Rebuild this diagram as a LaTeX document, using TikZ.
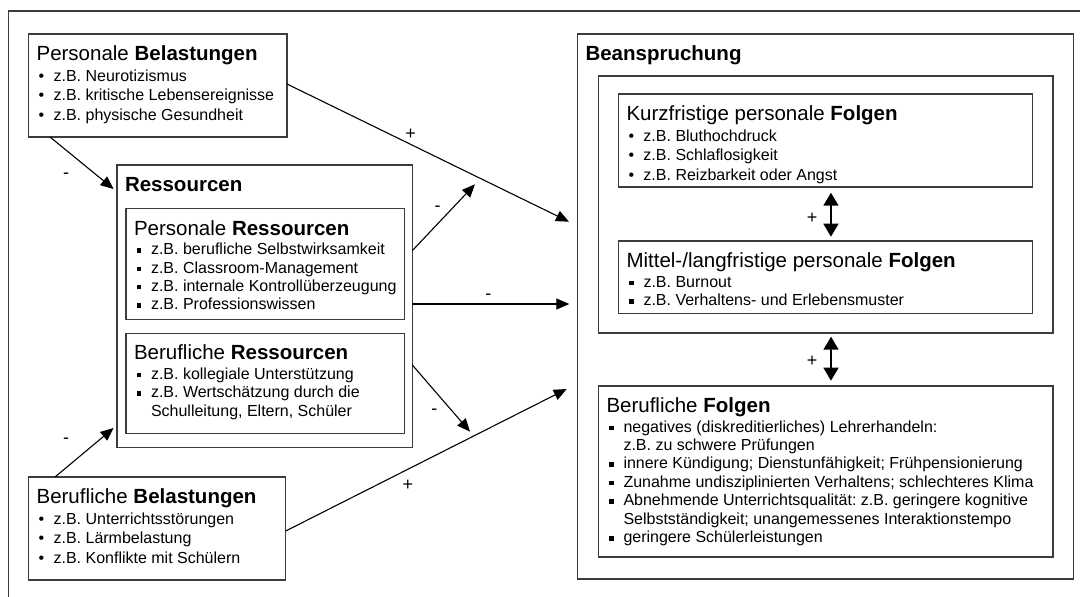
\documentclass[tikz,border=0pt]{standalone}
\usepackage{fontspec}
\setmainfont{Liberation Sans}
\usetikzlibrary{arrows.meta}
\definecolor{frame}{HTML}{3C3C3C}
\frenchspacing

\newcommand\boxtext[3]{\parbox[t][#2][t]{#1}{\leftskip=8pt\rightskip=0pt plus 1fil\parindent=0pt #3}}
\newcommand\ttl[1]{{\fontsize{20.5}{24}\selectfont\rule{0pt}{26.5pt}#1\par}\vspace{1.2pt}}
\newcommand\rd[1]{{\fontsize{16}{19.6}\selectfont\hangindent=17pt\hangafter=1\makebox[17pt][l]{\hspace{2pt}\textbullet}#1\par}}
\newcommand\sq[1]{{\fontsize{16}{18.4}\selectfont\hangindent=17pt\hangafter=1\makebox[17pt][l]{\hspace{2.5pt}\rule[2pt]{4.5pt}{4.5pt}}#1\par}}

\tikzset{box/.style={draw=frame, line width=1.2pt, inner sep=0pt, outer sep=0pt, anchor=north west},
  conn/.style={-{Triangle[length=13pt,width=11pt]}, line width=1.1pt},
  both/.style={{Triangle[length=13pt,width=15pt]}-{Triangle[length=13pt,width=15pt]}, line width=1.6pt},
  sign/.style={font=\fontsize{18}{18}\selectfont, inner sep=0pt, anchor=base}}

\begin{document}
\begin{tikzpicture}[x=1pt,y=-1pt]
\useasboundingbox (0,0) rectangle (1080,597);
\draw[frame, line width=1.2pt] (1080,11) -- (8.6,11) -- (8.6,597);
%
        \node [box] at (28.6,34) (pb) {\boxtext{258.4pt}{103pt}{\ttl{Personale \textbf{Belastungen}}
            \rd{z.B. Neurotizismus}\rd{z.B. kritische Lebensereignisse}\rd{z.B. physische Gesundheit}}};
        \node [box] at (117,165) (res) {\boxtext{295.3pt}{282.5pt}{\ttl{\textbf{Ressourcen}}}};
          \node [box] at (126,208.5) (pr) {\boxtext{278.3pt}{110.8pt}{\ttl{Personale \textbf{Ressourcen}}
              \sq{z.B. berufliche Selbstwirksamkeit}\sq{z.B. Classroom-Management}
              \sq{z.B. internale Kontrollüberzeugung}\sq{z.B. Professionswissen}}};
          \node [box] at (126,333.3) (br) {\boxtext{278.3pt}{100pt}{\ttl{Berufliche \textbf{Ressourcen}}
              \sq{z.B. kollegiale Unterstützung}\sq{z.B. Wertschätzung durch die\newline Schulleitung, Eltern, Schüler}}};
        \node [box] at (28.6,477) (bb) {\boxtext{257.1pt}{103pt}{\ttl{Berufliche \textbf{Belastungen}}
            \rd{z.B. Unterrichtsstörungen}\rd{z.B. Lärmbelastung}\rd{z.B. Konflikte mit Schülern}}};
%
        \node [box] at (577.5,34) (bean) {\boxtext{496.2pt}{545pt}{\ttl{\textbf{Beanspruchung}}}};
          \node [box, minimum width=454.3pt, minimum height=257pt] at (598.7,76) (cont) {};
            \node [box] at (618.5,94) (kurz) {\boxtext{413.9pt}{93pt}{\ttl{Kurzfristige personale \textbf{Folgen}}
                \rd{z.B. Bluthochdruck}\rd{z.B. Schlaflosigkeit}\rd{z.B. Reizbarkeit oder Angst}}};
            \node [box] at (618.5,241) (mit) {\boxtext{413.9pt}{72.3pt}{\ttl{Mittel-/langfristige personale \textbf{Folgen}}
                \sq{z.B. Burnout}\sq{z.B. Verhaltens- und Erlebensmuster}}};
          \node [box] at (598.5,386) (bf) {\boxtext{454.5pt}{171pt}{\ttl{Berufliche \textbf{Folgen}}
              \sq{negatives (diskreditierliches) Lehrerhandeln:\newline z.B. zu schwere Prüfungen}
              \sq{innere Kündigung; Dienstunfähigkeit; Frühpensionierung}
              \sq{Zunahme undisziplinierten Verhaltens; schlechteres Klima}
              \sq{Abnehmende Unterrichtsqualität: z.B. geringere kognitive\newline Selbstständigkeit; unangemessenes Interaktionstempo}
              \sq{geringere Schülerleistungen}}};
%
\coordinate (tpr) at (113.6,189);
\coordinate (tbr) at (113.6,428);
\coordinate (tpb) at (569,221.7);
\coordinate (tmid) at (569.3,304);
\coordinate (tbb) at (566.7,389);
\coordinate (tup) at (475,184.3);
\coordinate (tdown) at (470,431.7);
%
\draw[conn] ([xshift=21.4pt]pb.south west) -- (tpr);
\draw[conn] ([yshift=1.5pt]pb.east) -- (tpb);
\draw[conn] ([xshift=26.4pt]bb.north west) -- (tbr);
\draw[conn] ([yshift=-2.5pt]bb.east) -- (tbb);
\draw[conn] ([yshift=55.6pt]res.east) -- (tup);
\draw[conn] ([yshift=2.25pt]res.east) -- (tmid);
\draw[conn] ([yshift=-58.7pt]res.east) -- (tdown);
\draw[both, shorten <=5.7pt, shorten >=4.3pt] ([xshift=5.5pt]kurz.south) -- ([xshift=5.5pt]mit.north);
\draw[both, shorten <=3.7pt, shorten >=5.3pt] ([xshift=5.2pt]cont.south) -- ([xshift=5.2pt]bf.north);
%
\node [sign] at (66,178.9) (s1) {-};
\node [sign] at (410.7,139.4) (s2) {+};
\node [sign] at (437.7,211.6) (s3) {-};
\node [sign] at (488.3,299.9) (s4) {-};
\node [sign] at (434.3,414.2) (s5) {-};
\node [sign] at (66,443.9) (s6) {-};
\node [sign] at (408,490.4) (s7) {+};
\node [sign] at (812,223.1) (s8) {+};
\node [sign] at (812,366.4) (s9) {+};
\end{tikzpicture}
\end{document}
